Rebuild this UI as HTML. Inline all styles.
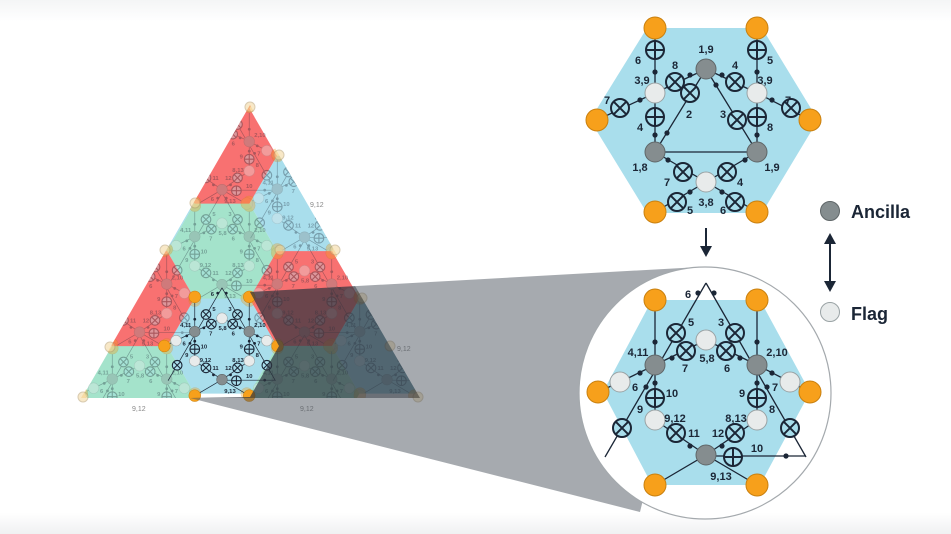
<!DOCTYPE html>
<html><head><meta charset="utf-8"><style>
html,body{margin:0;padding:0;background:#fff;}
svg{display:block;}
text{font-family:"Liberation Sans",sans-serif;font-weight:bold;fill:#1b2636;}
</style></head><body>
<svg width="951" height="534" viewBox="0 0 951 534" xmlns="http://www.w3.org/2000/svg">
<defs>
<linearGradient id="bg" x1="0" y1="0" x2="0" y2="1">
<stop offset="0" stop-color="#f4f5f6"/><stop offset="0.04" stop-color="#fff"/><stop offset="0.96" stop-color="#fff"/><stop offset="1" stop-color="#f0f1f2"/>
</linearGradient>
<g id="x"><circle r="9" fill="#a9deec" stroke="#1b2636" stroke-width="2"/><path d="M-6.3-6.3L6.3 6.3M6.3-6.3L-6.3 6.3" stroke="#1b2636" stroke-width="2"/></g>
<g id="p"><circle r="9" fill="#a9deec" stroke="#1b2636" stroke-width="2"/><path d="M0-9V9M-9 0H9" stroke="#1b2636" stroke-width="2"/></g>
<g id="o"><circle r="11" fill="#f7a01b" stroke="#c9800f" stroke-width="1"/></g>
<g id="a"><circle r="10" fill="#858d8f" stroke="#5f6668" stroke-width="1"/></g>
<g id="f"><circle r="10" fill="#e8ebeb" stroke="#9aa3a5" stroke-width="1"/></g>
<g id="d"><circle r="2.6" fill="#1b2636"/></g>
<clipPath id="tri"><polygon points="250,105 81,398 420,398"/></clipPath>

<g id="bh">
<g stroke="#1b2636" stroke-width="1.3" fill="none">
<path d="M655,300V420M757,300V420M598,392L620,382L655,365L706,340L757,365L790,382L810,392"/>
<path d="M706,283L605,457M706,283L806,457M706,456H806"/>
<path d="M655,420L706,455L757,420M655,485L706,455L757,485"/>
</g>
<use href="#d" x="655" y="342"/><use href="#d" x="655" y="383"/><use href="#d" x="757" y="342"/><use href="#d" x="757" y="383"/>
<use href="#d" x="640" y="373"/><use href="#d" x="672" y="358"/><use href="#d" x="740" y="358"/><use href="#d" x="772" y="373"/>
<use href="#d" x="698" y="293"/><use href="#d" x="646" y="387"/><use href="#d" x="714" y="293"/><use href="#d" x="767" y="387"/>
<use href="#d" x="786" y="456"/><use href="#d" x="690" y="446"/><use href="#d" x="722" y="446"/>
<use href="#x" x="676" y="333"/><use href="#x" x="686" y="351"/><use href="#x" x="735" y="333"/><use href="#x" x="726" y="351"/>
<use href="#x" x="676" y="433"/><use href="#x" x="735" y="433"/><use href="#x" x="622" y="428"/><use href="#x" x="790" y="428"/>
<use href="#p" x="655" y="398"/><use href="#p" x="757" y="398"/><use href="#p" x="733" y="457"/>
<use href="#o" x="655" y="300"/><use href="#o" x="757" y="300"/><use href="#o" x="598" y="392"/><use href="#o" x="810" y="392"/><use href="#o" x="655" y="485"/><use href="#o" x="757" y="485"/>
<use href="#a" x="655" y="365"/><use href="#a" x="757" y="365"/><use href="#a" x="706" y="455"/>
<use href="#f" x="706" y="340"/><use href="#f" x="620" y="382"/><use href="#f" x="790" y="382"/><use href="#f" x="655" y="420"/><use href="#f" x="757" y="420"/>
<g font-size="11" text-anchor="middle">
<text x="688" y="298">6</text><text x="691" y="326">5</text><text x="721" y="326">3</text>
<text x="638" y="356">4,11</text><text x="685" y="372">7</text><text x="707" y="362">5,8</text><text x="727" y="372">6</text><text x="777" y="356">2,10</text>
<text x="635" y="391">6</text><text x="672" y="397">10</text><text x="742" y="397">9</text><text x="775" y="391">7</text>
<text x="640" y="413">9</text><text x="772" y="413">8</text><text x="675" y="422">9,12</text><text x="736" y="422">8,13</text>
<text x="694" y="437">11</text><text x="718" y="437">12</text><text x="757" y="452">10</text><text x="721" y="480">9,13</text>
</g>
</g>
</defs>

<rect width="951" height="534" fill="url(#bg)"/>

<g clip-path="url(#tri)">
<g>
<polygon points="167,346 194.5,298.4 249.5,298.4 277,346 249.5,393.6 194.5,393.6" fill="#a9deec"/>
<polygon points="167,251 194.5,203.4 249.5,203.4 277,251 249.5,298.6 194.5,298.6" fill="#a4e3cb"/>
<polygon points="167,156 194.5,108.4 249.5,108.4 277,156 249.5,203.6 194.5,203.6" fill="#f87171"/>
<polygon points="249.5,298.5 277,250.9 332,250.9 359.5,298.5 332,346.1 277,346.1" fill="#f87171"/>
<polygon points="249.5,393.5 277,345.9 332,345.9 359.5,393.5 332,441.1 277,441.1" fill="#a4e3cb"/>
<polygon points="249.5,203.5 277,155.9 332,155.9 359.5,203.5 332,251.1 277,251.1" fill="#a9deec"/>
<polygon points="84.5,393.5 112,345.9 167,345.9 194.5,393.5 167,441.1 112,441.1" fill="#a4e3cb"/>
<polygon points="84.5,298.5 112,250.9 167,250.9 194.5,298.5 167,346.1 112,346.1" fill="#f87171"/>
<polygon points="84.5,203.5 112,155.9 167,155.9 194.5,203.5 167,251.1 112,251.1" fill="#a9deec"/>
<polygon points="332,346 359.5,298.4 414.5,298.4 442,346 414.5,393.6 359.5,393.6" fill="#a9deec"/>
<polygon points="167,61 194.5,13.4 249.5,13.4 277,61 249.5,108.6 194.5,108.6" fill="#f87171"/>
</g>
<g opacity="0.35">
<use href="#bh" transform="translate(222,251) scale(0.534) translate(-706,-392)"/>
<use href="#bh" transform="translate(222,156) scale(0.534) translate(-706,-392)"/>
<use href="#bh" transform="translate(304.5,298.5) scale(0.534) translate(-706,-392)"/>
<use href="#bh" transform="translate(304.5,393.5) scale(0.534) translate(-706,-392)"/>
<use href="#bh" transform="translate(304.5,203.5) scale(0.534) translate(-706,-392)"/>
<use href="#bh" transform="translate(139.5,393.5) scale(0.534) translate(-706,-392)"/>
<use href="#bh" transform="translate(139.5,298.5) scale(0.534) translate(-706,-392)"/>
<use href="#bh" transform="translate(387,346) scale(0.534) translate(-706,-392)"/>
</g>
</g>
<g opacity="0.55">
<circle cx="250" cy="107" r="5" fill="#f3d79a" stroke="#b9a070"/><circle cx="83" cy="397" r="5" fill="#f3d79a" stroke="#b9a070"/><circle cx="418" cy="397" r="5" fill="#f3d79a" stroke="#b9a070"/>
<circle cx="279" cy="155" r="5" fill="#f3d79a" stroke="#b9a070"/><circle cx="195" cy="203" r="5" fill="#f3d79a" stroke="#b9a070"/><circle cx="280" cy="250" r="5" fill="#f3d79a" stroke="#b9a070"/><circle cx="335" cy="250" r="5" fill="#f3d79a" stroke="#b9a070"/>
<circle cx="165" cy="250" r="5" fill="#f3d79a" stroke="#b9a070"/><circle cx="110" cy="347" r="5" fill="#f3d79a" stroke="#b9a070"/><circle cx="362" cy="298" r="5" fill="#f3d79a" stroke="#b9a070"/><circle cx="390" cy="346" r="5" fill="#f3d79a" stroke="#b9a070"/>
</g>
<use href="#bh" transform="translate(222,346) scale(0.534) translate(-706,-392)"/>
<g font-size="7">
<text x="132" y="411" style="fill:#888;font-weight:normal">9,12</text><text x="300" y="411" style="fill:#888;font-weight:normal">9,12</text>
<text x="397" y="351" style="fill:#888;font-weight:normal">9,12</text><text x="310" y="207" style="fill:#888;font-weight:normal">9,12</text>
</g>

<polygon points="250,292 700,267 640,512 190,398 250,397 279,346" fill="#4d5560" opacity="0.5"/>
<polygon points="250,292 700,267 640,512 190,398 250,397 279,346" fill="#141a22" opacity="0.4" clip-path="url(#tri)"/>
<circle cx="705" cy="393" r="126" fill="#fff" stroke="#a4a9ad" stroke-width="1.2"/>

<polygon points="603,392 652,300 760,300 810,392 760,485 652,485" fill="#a9deec"/>
<use href="#bh"/>

<polygon points="590,120 647,28 762,28 818,120 762,213 647,213" fill="#a9deec"/>
<g stroke="#1b2636" stroke-width="1.3" fill="none">
<path d="M655,28V152M757,28V152M597,120L655,93L706,69L757,93L810,120"/>
<path d="M706,69L655,152H757L706,69"/>
<path d="M655,152L706,182L757,152M655,212L706,182L757,212"/>
</g>
<use href="#d" x="655" y="72"/><use href="#d" x="655" y="135"/><use href="#d" x="757" y="72"/><use href="#d" x="757" y="135"/>
<use href="#d" x="640" y="100"/><use href="#d" x="772" y="100"/><use href="#d" x="690" y="75"/><use href="#d" x="722" y="75"/>
<use href="#d" x="667" y="133"/><use href="#d" x="716" y="85"/><use href="#d" x="668" y="160"/><use href="#d" x="745" y="160"/>
<use href="#d" x="690" y="192"/><use href="#d" x="722" y="192"/>
<use href="#p" x="655" y="50"/><use href="#p" x="757" y="50"/><use href="#p" x="655" y="117"/><use href="#p" x="757" y="117"/>
<use href="#x" x="620" y="108"/><use href="#x" x="791" y="108"/><use href="#x" x="675" y="82"/><use href="#x" x="690" y="93"/>
<use href="#x" x="735" y="82"/><use href="#x" x="737" y="120"/><use href="#x" x="683" y="172"/><use href="#x" x="727" y="172"/>
<use href="#x" x="677" y="202"/><use href="#x" x="735" y="202"/>
<use href="#o" x="655" y="28"/><use href="#o" x="757" y="28"/><use href="#o" x="597" y="120"/><use href="#o" x="810" y="120"/><use href="#o" x="655" y="212"/><use href="#o" x="757" y="212"/>
<use href="#a" x="706" y="69"/><use href="#a" x="655" y="152"/><use href="#a" x="757" y="152"/>
<use href="#f" x="655" y="93"/><use href="#f" x="757" y="93"/><use href="#f" x="706" y="182"/>
<g font-size="11" text-anchor="middle">
<text x="706" y="53">1,9</text><text x="638" y="64">6</text><text x="770" y="64">5</text><text x="675" y="69">8</text><text x="735" y="69">4</text>
<text x="642" y="84">3,9</text><text x="765" y="84">3,9</text><text x="607" y="104">7</text><text x="788" y="104">7</text>
<text x="689" y="118">2</text><text x="723" y="118">3</text><text x="640" y="131">4</text><text x="770" y="131">8</text>
<text x="640" y="171">1,8</text><text x="772" y="171">1,9</text><text x="667" y="186">7</text><text x="740" y="186">4</text>
<text x="706" y="206">3,8</text><text x="690" y="214">5</text><text x="723" y="214">6</text>
</g>

<path d="M706,228V247" stroke="#1b2636" stroke-width="2"/>
<polygon points="700,246 712,246 706,257" fill="#1b2636"/>
<path d="M830,240V285" stroke="#1b2636" stroke-width="2"/>
<polygon points="824,244 836,244 830,233" fill="#1b2636"/>
<polygon points="824,281 836,281 830,292" fill="#1b2636"/>

<circle cx="830" cy="211" r="9.5" fill="#858d8f" stroke="#5f6668"/>
<text x="851" y="218" font-size="18">Ancilla</text>
<circle cx="830" cy="312" r="9.5" fill="#e8ebeb" stroke="#9aa3a5"/>
<text x="851" y="320" font-size="18">Flag</text>
</svg>
</body></html>
